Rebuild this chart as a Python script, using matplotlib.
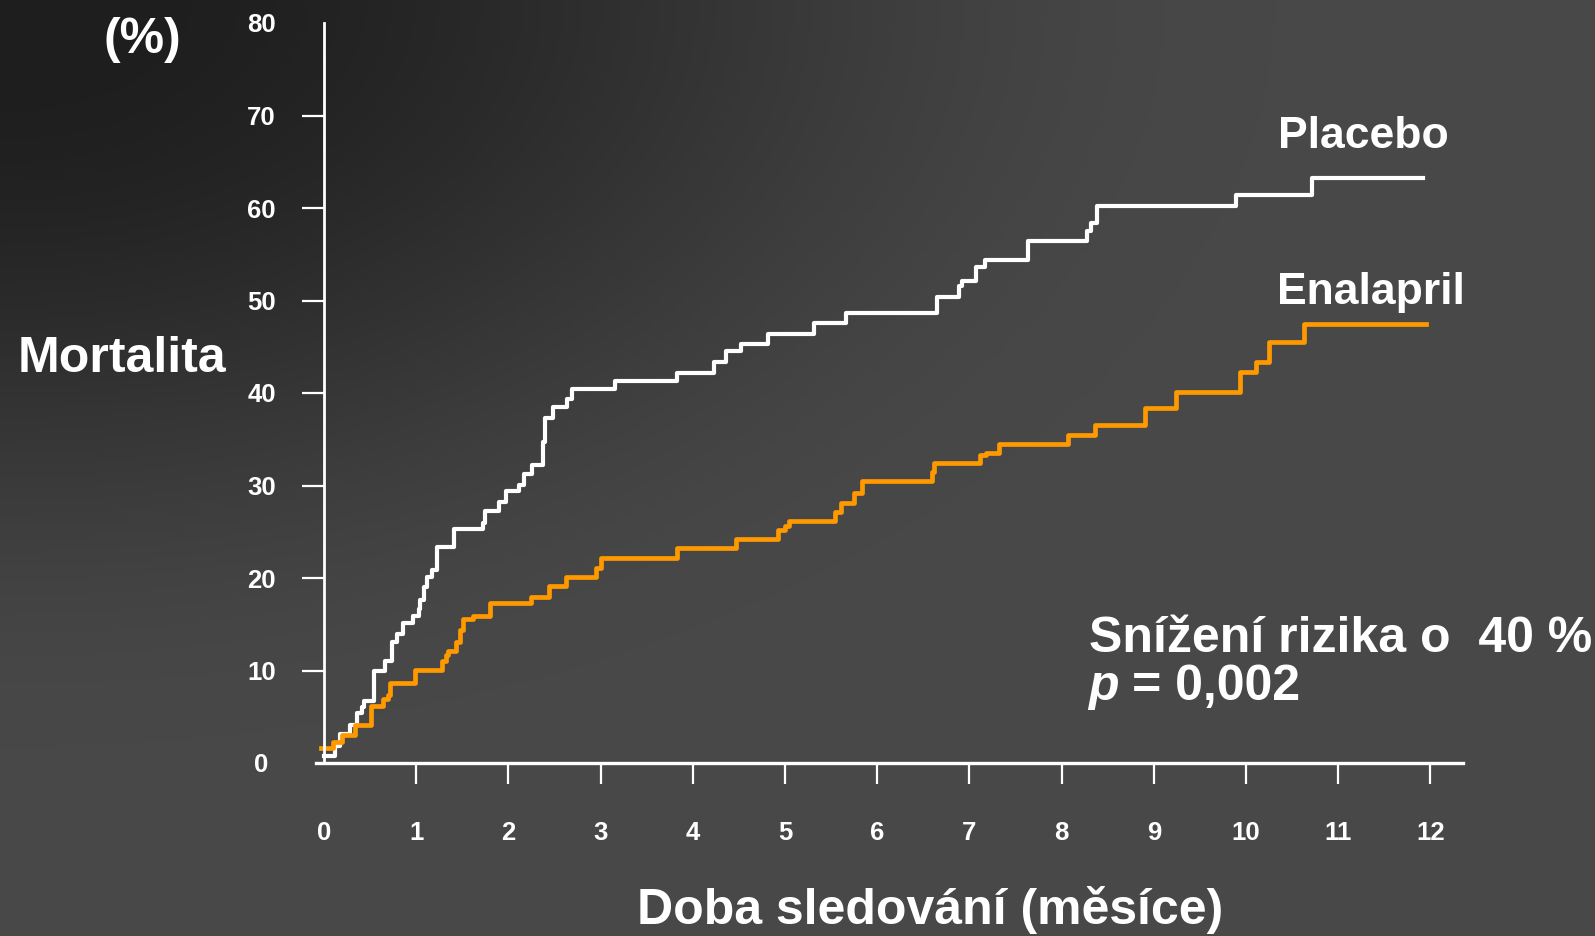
import numpy as np
import matplotlib
matplotlib.use("Agg")
import matplotlib.pyplot as plt

plt.rcParams['font.family'] = ['Liberation Sans', 'DejaVu Sans']
plt.rcParams['font.weight'] = 'bold'

# Kaplan-Meier style cumulative mortality (%)
placebo_t = [0, 0.12, 0.17, 0.28, 0.36, 0.41, 0.43, 0.54, 0.66, 0.74,
             0.79, 0.86, 0.97, 1.03, 1.04, 1.08, 1.12, 1.17, 1.22, 1.41,
             1.72, 1.75, 1.90, 1.97, 2.11, 2.17, 2.26, 2.37, 2.40, 2.48,
             2.64, 2.69, 3.16, 3.83, 4.23, 4.36, 4.52, 4.82, 5.31, 5.66,
             6.65, 6.89, 6.92, 7.07, 7.17, 7.63, 8.28, 8.32, 8.38, 9.89,
             10.72, 11.92]
placebo_y = [0.8, 1.8, 3.1, 4.1, 5.4, 6.1, 6.7, 10.0, 11.0, 13.1,
             14.0, 15.1, 15.9, 16.7, 17.6, 19.0, 20.1, 20.9, 23.3, 25.3,
             26.0, 27.2, 28.2, 29.4, 30.1, 31.2, 32.2, 34.7, 37.3, 38.5,
             39.4, 40.4, 41.3, 42.2, 43.3, 44.5, 45.3, 46.4, 47.6, 48.6,
             50.4, 51.6, 52.1, 53.6, 54.4, 56.4, 57.5, 58.4, 60.2, 61.4,
             63.2, 63.2]

enalapril_t = [-0.03, 0.10, 0.19, 0.34, 0.51, 0.64, 0.69, 0.72, 0.99, 1.28,
               1.32, 1.35, 1.43, 1.47, 1.51, 1.62, 1.80, 2.24, 2.44, 2.62,
               2.95, 3.00, 3.83, 4.47, 4.92, 5.00, 5.04, 5.54, 5.61, 5.75,
               5.84, 6.59, 6.62, 7.12, 7.18, 7.32, 8.07, 8.36, 8.90, 9.24,
               9.94, 10.11, 10.25, 10.63, 11.95]
enalapril_y = [1.6, 2.3, 3.0, 4.1, 6.2, 6.9, 7.4, 8.7, 10.1, 11.0,
               11.7, 12.1, 13.1, 14.4, 15.6, 15.9, 17.3, 17.9, 19.1, 20.1,
               21.1, 22.2, 23.2, 24.2, 25.2, 25.6, 26.2, 27.1, 28.1, 29.2,
               30.5, 31.5, 32.4, 33.3, 33.5, 34.5, 35.5, 36.5, 38.4, 40.1,
               42.3, 43.4, 45.5, 47.5, 47.5]

x_ticks = list(range(0, 13))
y_ticks = list(range(0, 81, 10))

W, H = 1595, 936
fig = plt.figure(figsize=(W / 100, H / 100), dpi=100)

# dark radial background, darkest in the top-left corner
bg = fig.add_axes([0, 0, 1, 1], zorder=-10)
gx, gy = np.meshgrid(np.linspace(0, 1, 400), np.linspace(0, 1, 240))
d = np.sqrt(gx ** 2 + gy ** 2)
t = np.clip((d - 0.05) / 0.75, 0, 1)
t = 3 * t ** 2 - 2 * t ** 3
shade = (30 + 42 * t) / 255
bg.imshow(np.dstack([shade, shade, shade]), aspect='auto', extent=[0, 1, 1, 0])
bg.set_xlim(0, 1)
bg.set_ylim(1, 0)
bg.axis('off')

ax = fig.add_axes([316 / W, 1 - 763 / H, 1146.7 / W, 740 / H])
ax.patch.set_alpha(0)

ax.step(placebo_t, placebo_y, where='post', color='white', lw=3.0)
ax.step(enalapril_t, enalapril_y, where='post', color='#FF9900', lw=3.4)

ax.set_xlim(-0.087, 12.35)
ax.set_ylim(0, 79.4)

for s in ['top', 'right']:
    ax.spines[s].set_visible(False)
ax.spines['left'].set_position(('data', 0))
ax.spines['left'].set_color('white')
ax.spines['bottom'].set_color('white')
ax.spines['left'].set_linewidth(2.0)
ax.spines['bottom'].set_linewidth(2.4)

ax.set_xticks(x_ticks)
ax.set_yticks(y_ticks)
ax.tick_params(axis='x', colors='white', length=15, width=1.6, pad=27, labelsize=18.5)
ax.tick_params(axis='y', colors='white', length=16, width=1.6, pad=29, labelsize=18.5)
for lbl in ax.get_yticklabels():
    lbl.set_ha('center')
    lbl.set_fontweight('bold')
for lbl in ax.get_xticklabels():
    lbl.set_fontweight('bold')

# no tick marks at 0 on x, 0 and 80 on y
xt = ax.xaxis.get_major_ticks()
xt[0].tick1line.set_visible(False)
yt = ax.yaxis.get_major_ticks()
yt[0].tick1line.set_visible(False)
yt[-1].tick1line.set_visible(False)

def px(x, y):
    return x / W, 1 - y / H

fig.text(*px(142, 53), '(%)', color='white', fontsize=36, ha='center', va='baseline')
fig.text(*px(18, 372), 'Mortalita', color='white', fontsize=36, ha='left', va='baseline')
fig.text(*px(1278, 148), 'Placebo', color='white', fontsize=32, ha='left', va='baseline')
fig.text(*px(1277, 304), 'Enalapril', color='white', fontsize=32, ha='left', va='baseline')
fig.text(*px(1089, 652), 'Snížení rizika o  40 %', color='white', fontsize=36, ha='left', va='baseline')
fig.text(*px(1088, 700), 'p', color='white', fontsize=36, style='italic', ha='left', va='baseline')
fig.text(*px(1132, 700), '= 0,002', color='white', fontsize=36, ha='left', va='baseline')
fig.text(*px(930, 924), 'Doba sledování (měsíce)', color='white', fontsize=36, ha='center', va='baseline')

fig.savefig('out.png', dpi=100)
